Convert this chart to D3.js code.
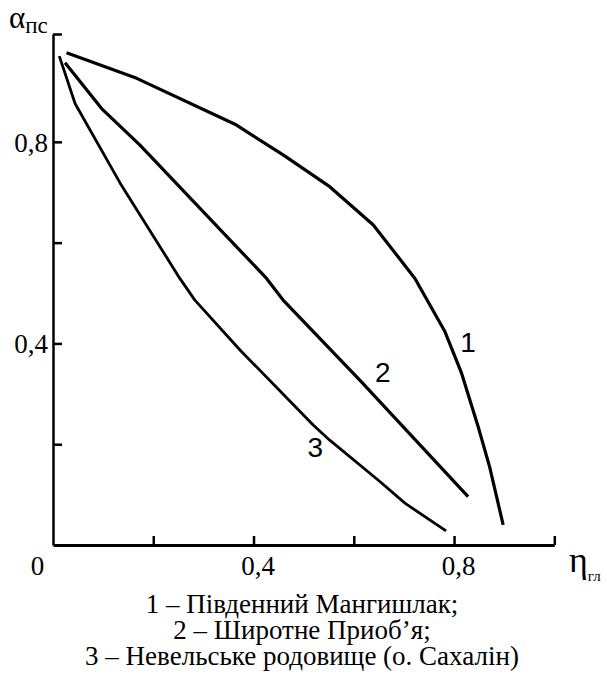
<!DOCTYPE html>
<html>
<head>
<meta charset="utf-8">
<script src="https://cdn.jsdelivr.net/npm/d3@7"></script>
<style>
  html, body { margin: 0; padding: 0; background: #fff; }
  svg { display: block; }
</style>
</head>
<body>
<script>
// ---- data ----
const seriesNames = ["1", "2", "3"];
const curve1 = [[0.027,0.977],[0.167,0.926],[0.363,0.835],[0.459,0.774],[0.552,0.711],[0.639,0.635],[0.722,0.529],[0.782,0.423],[0.815,0.341],[0.848,0.235],[0.871,0.155],[0.898,0.040]];
const curve2 = [[0.024,0.957],[0.097,0.866],[0.173,0.794],[0.426,0.529],[0.459,0.486],[0.612,0.327],[0.828,0.096]];
const curve3 = [[0.0126,0.970],[0.044,0.876],[0.134,0.718],[0.253,0.529],[0.283,0.486],[0.373,0.387],[0.519,0.238],[0.552,0.208],[0.652,0.126],[0.702,0.083],[0.784,0.028]];
const xTicks = [0.2, 0.4, 0.6, 0.8, 1.0];
const xTickLabels = {0.4: "0,4", 0.8: "0,8"};
const yMax = 1.014;
const yTicks = [0.2, 0.4, 0.6, 0.8, yMax];
const yTickLabels = {0.4: "0,4", 0.8: "0,8"};
const labelAnchors = [[0.828, 0.383], [0.658, 0.324], [0.523, 0.175]];
const captionLines = ["1 – Південний Мангишлак;", "2 – Широтне Приоб’я;", "3 – Невельське родовище (о. Сахалін)"];

const W = 607, H = 679;
const SERIF = '"Liberation Serif"';
const SANS = '"Liberation Sans"';
const svg = d3.select("body").append("svg").attr("width", W).attr("height", H);

const x = d3.scaleLinear().domain([0, 1.0]).range([53, 554.3]);
const y = d3.scaleLinear().domain([0, yMax]).range([545, 34]);

// x axis
const gx = svg.append("g").attr("transform", `translate(0,${y(0)})`)
  .call(d3.axisBottom(x).tickValues(xTicks).tickSize(-9).tickSizeOuter(0)
    .tickFormat(d => xTickLabels[d] || ""));
gx.select(".domain").attr("stroke", "#000").attr("stroke-width", 3);
gx.selectAll(".tick line").attr("stroke", "#000").attr("stroke-width", 2.5);
gx.selectAll(".tick text").style("font-family", SERIF).style("font-size", "27px")
  .attr("fill", "#000").attr("y", 30).attr("dy", 0).attr("dx", 4);

// y axis
const gy = svg.append("g").attr("transform", `translate(${x(0)},0)`)
  .call(d3.axisLeft(y).tickValues(yTicks).tickSize(-9).tickSizeOuter(0)
    .tickFormat(d => yTickLabels[d] || ""));
gy.select(".domain").attr("stroke", "#000").attr("stroke-width", 2.5);
gy.selectAll(".tick line").attr("stroke", "#000").attr("stroke-width", 2.5);
gy.selectAll(".tick text").style("font-family", SERIF).style("font-size", "27px")
  .attr("fill", "#000").attr("x", -5).attr("dy", "0.35em");

// origin label
svg.append("text").style("font-family", SERIF).attr("x", 37.5).attr("y", y(0) + 30)
  .attr("text-anchor", "middle").style("font-size", "27px").text("0");

// axis titles
const ya = svg.append("text").style("font-family", SERIF).attr("x", 9).attr("y", 28);
ya.append("tspan").style("font-size", "31px").text("α");
ya.append("tspan").style("font-size", "23px").attr("dy", 5).text("пс");

const xa = svg.append("text").style("font-family", SERIF).attr("x", 569).attr("y", 572);
xa.append("tspan").style("font-size", "36px").text("η");
xa.append("tspan").style("font-size", "15px").attr("dy", 9).text("гл");

// curves
const line = d3.line().x(d => x(d[0])).y(d => y(d[1])).curve(d3.curveLinear);
[curve1, curve2, curve3].forEach((c, i) => {
  svg.append("path").datum(c).attr("d", line).attr("fill", "none")
    .attr("stroke", "#000").attr("stroke-width", i === 2 ? 2.8 : 3.2)
    .attr("stroke-linejoin", "round").attr("stroke-linecap", "butt");
});

// curve labels
labelAnchors.forEach((p, i) => {
  svg.append("text").style("font-family", SANS).attr("x", x(p[0])).attr("y", y(p[1]))
    .attr("text-anchor", "middle").style("font-size", "28px")
    .text(seriesNames[i]);
});

// caption
captionLines.forEach((t, i) => {
  svg.append("text").style("font-family", SERIF).attr("x", 302).attr("y", 613 + i * 26)
    .attr("text-anchor", "middle").style("font-size", "27px")
    .text(t);
});
</script>
</body>
</html>
